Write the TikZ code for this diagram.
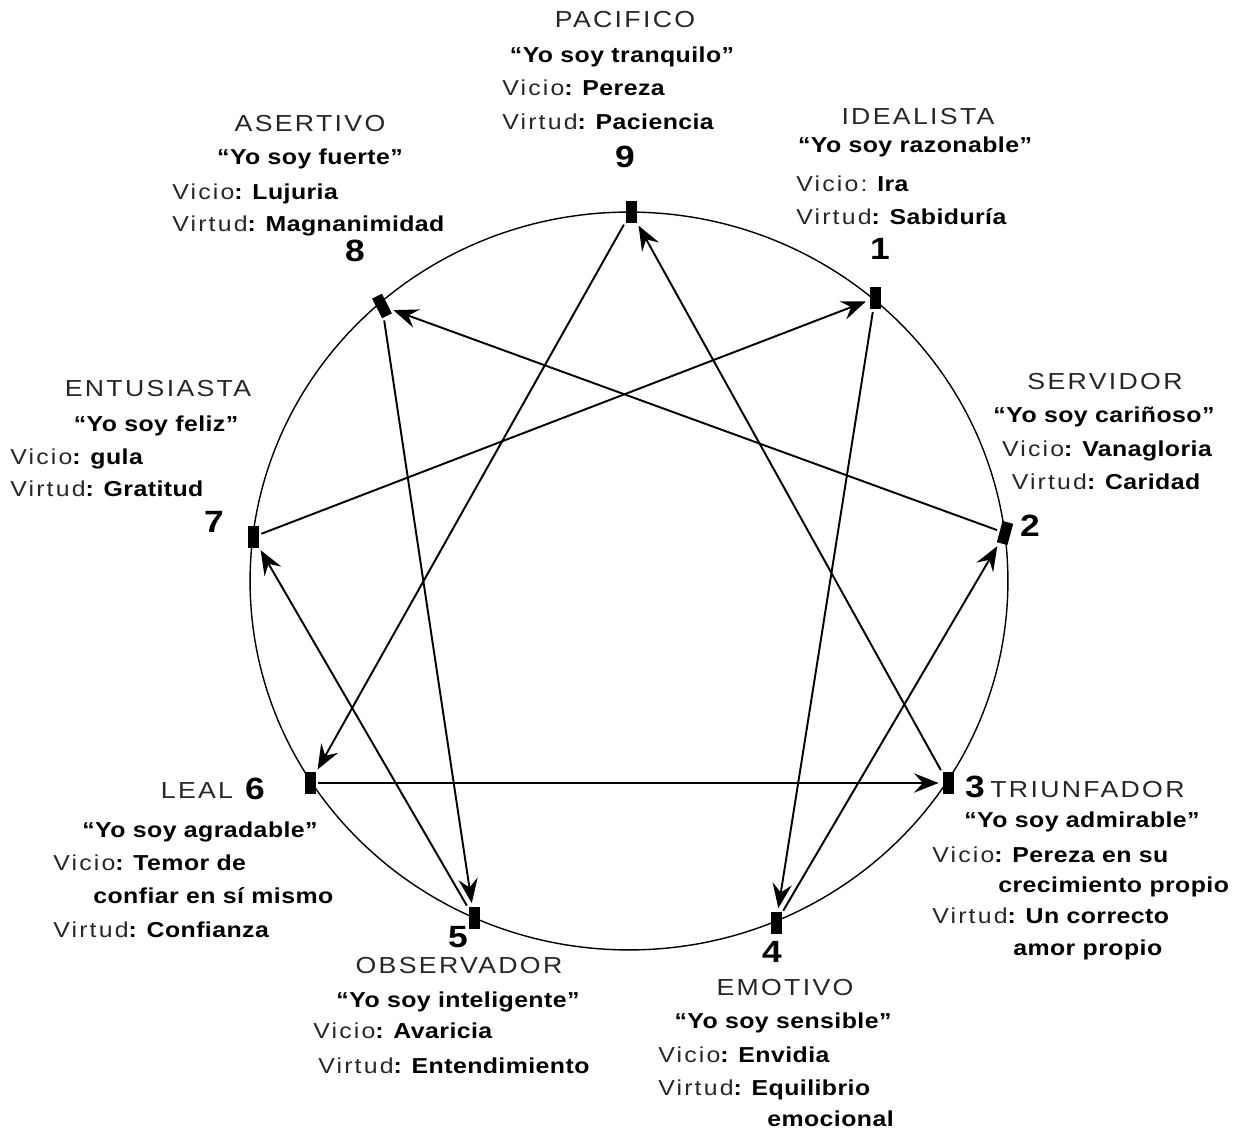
\documentclass[tikz,border=0pt]{standalone}
\usepackage{fontspec}
\setmainfont{Liberation Sans}[FakeStretch=1.15, LetterSpace=2]
\newfontfamily\thinfont{Liberation Sans}[FakeStretch=1.15, LetterSpace=10]
\usetikzlibrary{arrows.meta}
\newcommand{\tlab}[1]{{\thinfont\mdseries\color{black!85}#1}}

\begin{document}
\begin{tikzpicture}[
    x=0.02cm, y=-0.02cm,
    ring/.style={line width=0.8pt},
    typemark/.style={fill=black, minimum width=0.22cm, minimum height=0.44cm, inner sep=0pt},
    arr/.style={-{Stealth[length=14pt, width=11pt, inset=5pt]}, line width=1.1pt, shorten >=2pt, shorten <=1.5pt},
    tname/.style={font=\thinfont\fontsize{13.2}{15}\selectfont, text=black!85, anchor=base, inner sep=0pt},
    tmotto/.style={font=\bfseries\fontsize{12.3}{14}\selectfont, anchor=base, inner sep=0pt},
    tinfo/.style={font=\bfseries\fontsize{12.3}{14}\selectfont, anchor=base west, inner sep=0pt},
    tnum/.style={font=\bfseries\fontsize{17.5}{20}\selectfont, anchor=base, inner sep=0pt},
]
\useasboundingbox (0,0) rectangle (1242,1128);

% circle and points
\draw[ring] (629,581) ellipse [x radius=7.58cm, y radius=7.38cm];
\node[typemark] (m9) at (631,212) {};
\node[typemark] (m1) at (875,298) {};
\node[typemark, rotate=-15] (m2) at (1005,533) {};
\node[typemark] (m3) at (948,783) {};
\node[typemark] (m4) at (776,923) {};
\node[typemark] (m5) at (474,918) {};
\node[typemark] (m6) at (310,783) {};
\node[typemark] (m7) at (253,537) {};
\node[typemark, rotate=27] (m8) at (382,306) {};

% connectors
\draw[arr] (m9) -- (m6);
\draw[arr] (m6) -- (m3);
\draw[arr] (m3) -- (m9);
\draw[arr] (m1) -- (m4);
\draw[arr] (m4) -- (m2);
\draw[arr] (m2) -- (m8);
\draw[arr] (m8) -- (m5);
\draw[arr] (m5) -- (m7);
\draw[arr] (m7) -- (m1);

% 9
\node[tname] (name9) at (625,28) {PACIFICO};
\node[tmotto] (motto9) at (622,63) {“Yo soy tranquilo”};
\node[tinfo] (vicio9) at (502,96) {\tlab{Vicio}: Pereza};
\node[tinfo] (virtud9) at (502,130) {\tlab{Virtud}: Paciencia};
\node[tnum] (num9) at (625,168) {9};

% 1
\node[tname] (name1) at (918,125) {IDEALISTA};
\node[tmotto] (motto1) at (915,153) {“Yo soy razonable”};
\node[tinfo] (vicio1) at (796,192) {\tlab{Vicio:} Ira};
\node[tinfo] (virtud1) at (796,225) {\tlab{Virtud}: Sabiduría};
\node[tnum] (num1) at (880,260) {1};

% 8
\node[tname] (name8) at (310,132) {ASERTIVO};
\node[tmotto] (motto8) at (310,165) {“Yo soy fuerte”};
\node[tinfo] (vicio8) at (172,200) {\tlab{Vicio}: Lujuria};
\node[tinfo] (virtud8) at (172,232) {\tlab{Virtud}: Magnanimidad};
\node[tnum] (num8) at (355,262) {8};

% 7
\node[tname] (name7) at (158,397) {ENTUSIASTA};
\node[tmotto] (motto7) at (156,432) {“Yo soy feliz”};
\node[tinfo] (vicio7) at (10,465) {\tlab{Vicio}: gula};
\node[tinfo] (virtud7) at (10,497) {\tlab{Virtud}: Gratitud};
\node[tnum] (num7) at (214,533) {7};

% 2
\node[tname] (name2) at (1105,390) {SERVIDOR};
\node[tmotto] (motto2) at (1104,423) {“Yo soy cariñoso”};
\node[tinfo, anchor=base] (vicio2) at (1107,457) {\tlab{Vicio}: Vanagloria};
\node[tinfo, anchor=base] (virtud2) at (1106,490) {\tlab{Virtud}: Caridad};
\node[tnum] (num2) at (1030,537) {2};

% 6
\node[tname] (name6) at (197,798) {LEAL};
\node[tnum] (num6) at (255,800) {6};
\node[tmotto] (motto6) at (200,837) {“Yo soy agradable”};
\node[tinfo] (vicio6) at (53,870) {\tlab{Vicio}: Temor de};
\node[tinfo] (vicio6b) at (93,903) {confiar en sí mismo};
\node[tinfo] (virtud6) at (53,937) {\tlab{Virtud}: Confianza};

% 3
\node[tnum] (num3) at (975,797) {3};
\node[tname, anchor=base west] (name3) at (990,797) {TRIUNFADOR};
\node[tmotto] (motto3) at (1082,827) {“Yo soy admirable”};
\node[tinfo] (vicio3) at (932,862) {\tlab{Vicio}: Pereza en su};
\node[tinfo] (vicio3b) at (998,892) {crecimiento propio};
\node[tinfo] (virtud3) at (932,923) {\tlab{Virtud}: Un correcto};
\node[tinfo] (virtud3b) at (1013,955) {amor propio};

% 5
\node[tnum] (num5) at (458,947) {5};
\node[tname] (name5) at (459,973) {OBSERVADOR};
\node[tmotto] (motto5) at (458,1007) {“Yo soy inteligente”};
\node[tinfo] (vicio5) at (313,1038) {\tlab{Vicio}: Avaricia};
\node[tinfo] (virtud5) at (318,1073) {\tlab{Virtud}: Entendimiento};

% 4
\node[tnum] (num4) at (772,962) {4};
\node[tname] (name4) at (785,995) {EMOTIVO};
\node[tmotto] (motto4) at (783,1028) {“Yo soy sensible”};
\node[tinfo] (vicio4) at (658,1062) {\tlab{Vicio}: Envidia};
\node[tinfo] (virtud4) at (658,1095) {\tlab{Virtud}: Equilibrio};
\node[tinfo] (virtud4b) at (767,1126) {emocional};
\end{tikzpicture}
\end{document}
